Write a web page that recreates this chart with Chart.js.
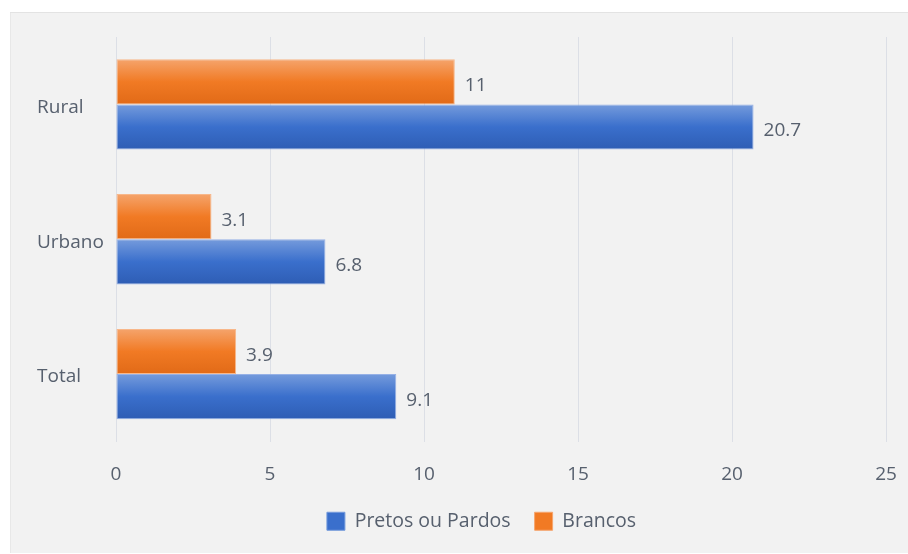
<!DOCTYPE html>
<html>
<head>
<meta charset="utf-8">
<script src="https://cdn.jsdelivr.net/npm/chart.js@4"></script>
<style>
    body { margin: 0; background: #ffffff; }
    #panel {
        position: absolute;
        left: 10px;
        top: 12px;
        width: 898px;
        height: 541px;
        background: #f2f2f2;
        box-shadow: inset 0 1px 0 #e3e3e3, inset 1px 0 0 #e8e8e8;
    }
    canvas { display: block; }
</style>
</head>
<body>
<div id="panel"><canvas id="myChart" width="898" height="541"></canvas></div>
<script>
//Chart data
const categories = ['Rural', 'Urbano', 'Total'];
const pretos = [20.7, 6.8, 9.1];
const brancos = [11, 3.1, 3.9];
const xTicks = [0, 5, 10, 15, 20, 25];

const textColor = '#57606e';
const fontFamily = "'Open Sans', 'DejaVu Sans', sans-serif";
const fontSize = 19;
const catPct = 0.67;

// top / middle / bottom shades of each bar
const blueShades = ['#759bdc', '#3a6fcc', '#2e5db4'];
const orangeShades = ['#f5a46c', '#f17a24', '#e16a17'];

// vertical gradient for one bar, placed from the category scale
function barFill(c, shades) {
    const chart = c.chart;
    const y = chart.scales.y;
    if (!y || c.dataIndex === undefined || !chart.chartArea) return shades[1];
    const step = y.getPixelForValue(1) - y.getPixelForValue(0);
    const band = step * catPct;
    const h = band / 2;
    const top = y.getPixelForValue(c.dataIndex) - band / 2 + c.datasetIndex * h;
    const g = chart.ctx.createLinearGradient(0, top, 0, top + h);
    g.addColorStop(0, shades[0]);
    g.addColorStop(0.5, shades[1]);
    g.addColorStop(1, shades[2]);
    return g;
}

// value labels at the end of every bar
const valueLabels = {
    id: 'valueLabels',
    afterDatasetsDraw(chart) {
        const ctx = chart.ctx;
        ctx.save();
        ctx.font = fontSize + 'px ' + fontFamily;
        ctx.fillStyle = textColor;
        ctx.textAlign = 'left';
        ctx.textBaseline = 'middle';
        chart.data.datasets.forEach(function (ds, i) {
            chart.getDatasetMeta(i).data.forEach(function (bar, j) {
                ctx.fillText(String(ds.data[j]), bar.x + 10, bar.y + 4);
            });
        });
        ctx.restore();
    }
};

// nudge the legend a bit to the right
const legendShift = {
    id: 'legendShift',
    afterLayout(chart) {
        chart.legend.left += 20;
        chart.legend.right += 20;
    }
};

const data = {
    labels: categories,
    datasets: [
        {
            label: 'Brancos',
            data: brancos,
            backgroundColor: c => barFill(c, orangeShades),
            borderColor: 'rgba(248, 176, 126, 0.9)',
            borderWidth: 1,
            borderSkipped: false
        },
        {
            label: 'Pretos ou Pardos',
            data: pretos,
            backgroundColor: c => barFill(c, blueShades),
            borderColor: 'rgba(140, 170, 228, 0.9)',
            borderWidth: 1,
            borderSkipped: false
        }
    ]
};

const config = {
    type: 'bar',
    data: data,
    options: {
        indexAxis: 'y',
        responsive: false,
        animation: false,
        events: [],
        layout: {
            padding: { left: 27, right: 22, top: 25, bottom: 12 }
        },
        datasets: {
            bar: { categoryPercentage: catPct, barPercentage: 1 }
        },
        scales: {
            x: {
                min: 0,
                max: 25,
                afterBuildTicks: s => { s.ticks = xTicks.map(v => ({ value: v })); },
                afterFit: s => { s.height = 46; },
                border: { display: false },
                grid: {
                    color: '#dcdfe6',
                    lineWidth: 1,
                    drawTicks: true,
                    tickLength: 22,
                    tickColor: 'rgba(0, 0, 0, 0)'
                },
                ticks: {
                    padding: 0,
                    color: textColor,
                    font: { family: fontFamily, size: fontSize }
                }
            },
            y: {
                afterFit: s => { s.width = 79; },
                border: { display: false },
                grid: { display: false, drawTicks: false },
                ticks: {
                    crossAlign: 'far',
                    labelOffset: 3,
                    color: textColor,
                    font: { family: fontFamily, size: fontSize }
                }
            }
        },
        plugins: {
            legend: {
                position: 'bottom',
                reverse: true,
                labels: {
                    boxWidth: 18,
                    boxHeight: 18,
                    padding: 24,
                    color: textColor,
                    font: { family: fontFamily, size: 19.5 },
                    generateLabels(chart) {
                        return chart.data.datasets.map(function (ds, i) {
                            const shades = i === 0 ? orangeShades : blueShades;
                            return {
                                text: ds.label,
                                fillStyle: shades[1],
                                strokeStyle: shades[0],
                                lineWidth: 1,
                                fontColor: textColor,
                                datasetIndex: i,
                                hidden: false
                            };
                        });
                    }
                }
            },
            tooltip: { enabled: false }
        }
    },
    plugins: [valueLabels, legendShift]
};

var myChart = new Chart(
    document.getElementById('myChart'),
    config
);
</script>
</body>
</html>
